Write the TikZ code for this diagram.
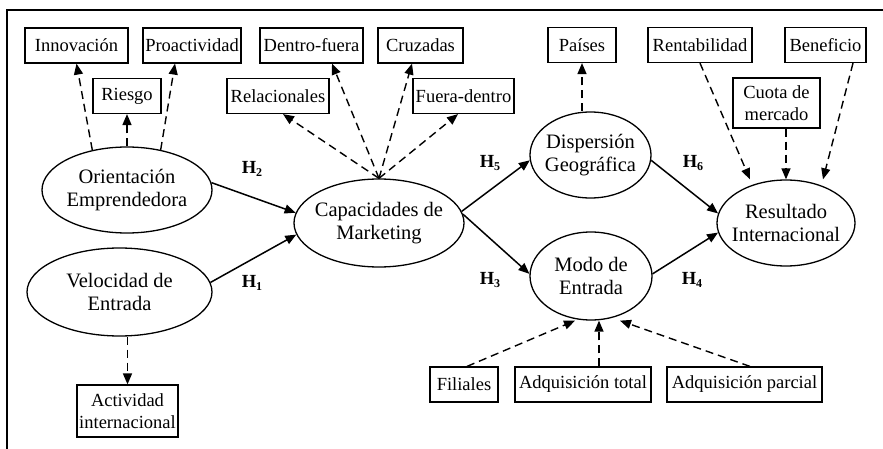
\documentclass[tikz,border=0pt]{standalone}
\usepackage{fontspec}
\setmainfont{Liberation Serif}
\usetikzlibrary{shapes.geometric,arrows.meta}
\newcommand\zc[1]{\hbox to 0pt{\hss#1\hss}}
\newcommand\hsub[1]{\raisebox{-0.35ex}{\fontsize{12}{12}\selectfont #1}}
\begin{document}
\begin{tikzpicture}[x=1pt,y=-1pt,
  box/.style={draw,line width=1.2pt,minimum height=35pt,inner sep=1pt,
    font=\fontsize{18.5}{21.5}\selectfont,align=center},
  lat/.style={draw,ellipse,line width=1.3pt,inner sep=0pt,
    font=\fontsize{20.5}{23}\selectfont,align=center},
  darr/.style={line width=1.4pt,dash pattern=on 8pt off 5pt,
    -{Triangle[length=11pt,width=9pt]}},
  sarr/.style={line width=1.5pt,-{Triangle[length=11pt,width=9pt]}},
  hlab/.style={font=\fontsize{18.5}{20}\selectfont\bfseries,inner sep=0pt}]
\useasboundingbox (0,0) rectangle (883,449);
\draw[line width=1.6pt] (7,449) -- (7,10) -- (883,10);

% indicator boxes
\node[box,minimum width=103pt] (inn) at (76.5,45.5) {Innovación};
\node[box,minimum width=98pt] (pro) at (192,45.5) {Proactividad};
\node[box,minimum width=103pt] (dfu) at (311.5,45.5) {Dentro-fuera};
\node[box,minimum width=85pt] (cru) at (420.5,45.5) {Cruzadas};
\node[box,minimum width=68pt] (rie) at (127,96) {Riesgo};
\node[box,minimum width=102pt] (rel) at (278,96) {Relacionales};
\node[box,minimum width=101pt] (fde) at (463.5,96) {Fuera-dentro};
\node[box,minimum width=68pt] (pai) at (582,45) {Países};
\node[box,minimum width=104pt] (ren) at (700,45) {Rentabilidad};
\node[box,minimum width=81pt] (ben) at (825.5,45) {Beneficio};
\node[box,minimum width=87pt,minimum height=50pt] (cuo) at (776.5,103) {Cuota de\\mercado};
\node[box,minimum width=68pt] (fil) at (464,384.5) {Filiales};
\node[box,minimum width=136pt] (adt) at (583,384.5) {Adquisición total};
\node[box,minimum width=155pt] (adp) at (744.5,384.5) {Adquisición parcial};
\node[box,minimum width=101pt,minimum height=52pt] (act) at (127.5,411) {Actividad\\internacional};

% latent variables
\node[lat,minimum width=170pt,minimum height=86pt] (oe) at (127,190) {\zc{Orientación}\\\zc{Emprendedora}};
\node[lat,minimum width=185pt,minimum height=88pt] (vel) at (119.5,292) {\zc{Velocidad de}\\\zc{Entrada}};
\node[lat,minimum width=170pt,minimum height=88pt] (cap) at (379,223) {\zc{Capacidades de}\\\zc{Marketing}};
\node[lat,minimum width=121pt,minimum height=86pt] (dg) at (590.5,155) {\zc{Dispersión}\\\zc{Geográfica}};
\node[lat,minimum width=122pt,minimum height=88pt] (mo) at (591,276) {\zc{Modo de}\\\zc{Entrada}};
\node[lat,minimum width=138pt,minimum height=86pt] (res) at (786,223) {\zc{Resultado}\\\zc{Internacional}};

% hypothesis labels
\node[hlab] (h2) at (252,169) {H\hsub{2}};
\node[hlab] (h1) at (252,283) {H\hsub{1}};
\node[hlab] (h5) at (490,163) {H\hsub{5}};
\node[hlab] (h3) at (490,280) {H\hsub{3}};
\node[hlab] (h6) at (693,163) {H\hsub{6}};
\node[hlab] (h4) at (692,280) {H\hsub{4}};

% dashed indicator arrows
\draw[darr] (oe.131) -- (inn.south);
\draw[darr] (oe.north) -- (rie.south);
\draw[darr] (oe.50) -- ([xshift=-17pt]pro.south);
\draw[darr] (cap.north) -- ([xshift=5pt]rel.south);
\draw[darr] (cap.north) -- ([xshift=20.5pt]dfu.south);
\draw[darr] (cap.north) -- ([xshift=-8.5pt]cru.south);
\draw[darr] (cap.north) -- ([xshift=-5.5pt]fde.south);
\draw[darr] (pai.south |- dg.north) -- (pai.south);
\draw[darr] (ren.south) -- ([xshift=-36pt]res.north);
\draw[darr] (res.north |- cuo.south) -- (res.north);
\draw[darr] ([xshift=27.5pt]ben.south) -- ([xshift=37pt]res.north);
\draw[darr] (act.north |- vel.south) -- (act.north);
\draw[darr] ([xshift=3pt]fil.north) -- ([xshift=-16pt]mo.south);
\draw[darr] ([xshift=16pt]adt.north) -- ([xshift=8pt]mo.south);
\draw[darr] ([xshift=5.5pt]adp.north) -- ([xshift=29pt]mo.south);

% structural paths
\draw[sarr] (oe.5) -- (cap.173);
\draw[sarr] (vel.6) -- (cap.188);
\draw[sarr] (cap.8) -- (dg.185);
\draw[sarr] (cap.6) -- (mo.178);
\draw[sarr] (dg.355) -- (res.172);
\draw[sarr] (mo.2) -- (res.188);
\end{tikzpicture}
\end{document}
